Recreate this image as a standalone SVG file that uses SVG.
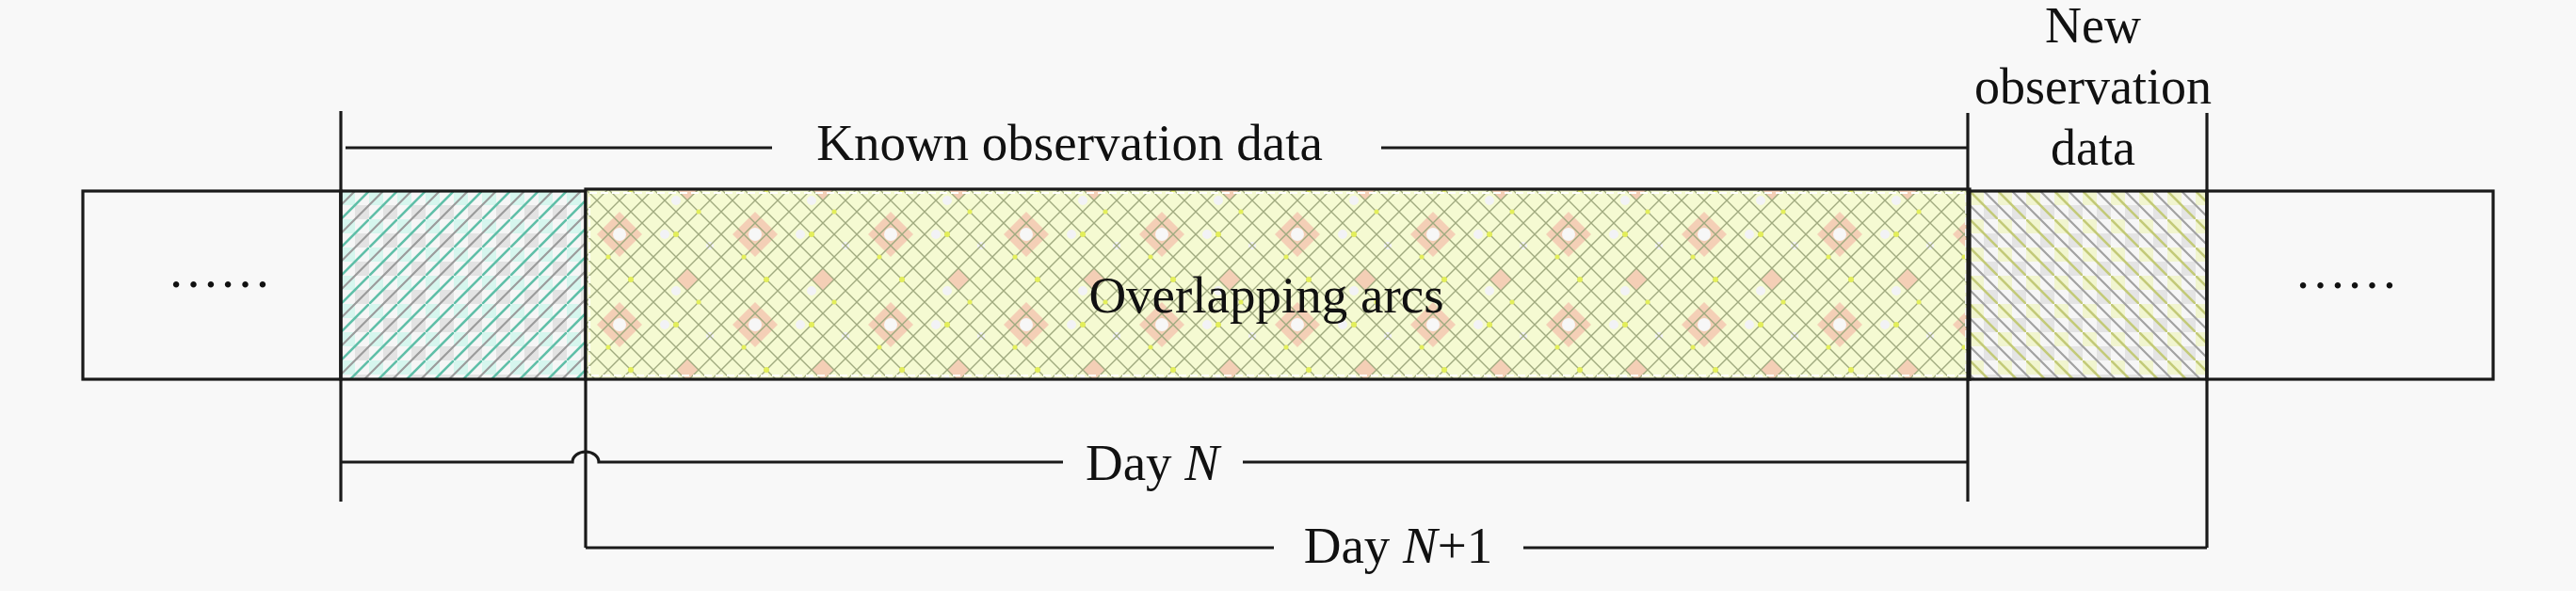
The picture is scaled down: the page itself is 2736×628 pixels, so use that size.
<svg xmlns="http://www.w3.org/2000/svg" width="2736" height="628" viewBox="0 0 2736 628">
<style>
.ln{stroke:#1a1a1a;stroke-width:3.2;fill:none}
.bx{stroke:#1a1a1a;stroke-width:3.2}
.t{font-family:"Liberation Serif","Times New Roman",serif;font-size:55px;fill:#111}
.c{text-anchor:middle}
.it{font-style:italic}
.tn{font-family:"Liberation Serif","Times New Roman",serif;font-size:54px;fill:#111;text-anchor:middle}
</style>
<defs>
<pattern id="pA" patternUnits="userSpaceOnUse" x="362" y="203" width="30" height="30">
<rect width="30" height="30" fill="#f6f6f6"/>
<rect x="0" y="0" width="15" height="15" fill="#d6f6ee"/>
<rect x="15" y="15" width="15" height="15" fill="#e3e3e3"/>
<path d="M-2,32 L32,-2" stroke="#5fbfa8" stroke-width="2.6"/>
<path d="M-2,17 L17,-2 M13,32 L32,13" stroke="#9c9c9c" stroke-width="2.2"/>
</pattern>
<pattern id="pC" patternUnits="userSpaceOnUse" x="2092" y="203" width="30" height="30">
<rect width="30" height="30" fill="#f6f6f6"/>
<rect x="0" y="0" width="15" height="15" fill="#f1f5cf"/>
<rect x="15" y="15" width="15" height="15" fill="#e4e4e4"/>
<path d="M-2,-2 L32,32" stroke="#c3ca78" stroke-width="2.6"/>
<path d="M13,-2 L32,17 M-2,13 L17,32" stroke="#a2a2a2" stroke-width="2.2"/>
</pattern>
<pattern id="pB" patternUnits="userSpaceOnUse" x="622" y="201" width="144" height="96">
<rect width="144" height="96" fill="#f5fad2"/>
<path d="M36,24 L60,48 L36,72 L12,48 Z" fill="#f4cfb6"/>
<circle cx="36" cy="48" r="7" fill="#f7f7f7"/>
<path d="M108,84 L120,96 L96,96 Z M108,0 L120,0 L108,12 L96,0 Z" fill="#f4cfb6"/>
<circle cx="96" cy="12" r="5" fill="#f2f2f6"/>
<circle cx="84" cy="48" r="5" fill="#f2f2f6"/>
<circle cx="132" cy="60" r="4" fill="#f2f2f6"/>
<path d="M0,0 L96,96 M24,0 L120,96 M48,0 L144,96 M72,0 L144,72 M96,0 L144,48 M120,0 L144,24 M0,24 L72,96 M0,48 L48,96 M0,72 L24,96 M144,0 L48,96 M120,0 L24,96 M96,0 L0,96 M72,0 L0,72 M48,0 L0,48 M24,0 L0,24 M144,24 L72,96 M144,48 L96,96 M144,72 L120,96" stroke="#a0aa7f" stroke-width="1.4"/>
<circle cx="48" cy="0" r="3" fill="#e3ee5a"/>
<circle cx="48" cy="96" r="3" fill="#e3ee5a"/>
<circle cx="96" cy="48" r="3" fill="#e3ee5a"/>
<circle cx="120" cy="24" r="2.5" fill="#e3ee5a"/>
<circle cx="24" cy="72" r="2.5" fill="#e3ee5a"/>
</pattern>
</defs>
<rect width="2736" height="628" fill="#f8f8f8"/>
<g id="left-box">
<rect class="bx" x="88" y="203" width="274" height="200" fill="#f8f8f8"/>
<text class="t" x="178" y="305">……</text>
</g>
<g id="known-segment">
<rect class="bx" x="362" y="203" width="260" height="200" fill="url(#pA)"/>
</g>
<g id="overlap">
<rect class="bx" x="622" y="201" width="1470" height="202" fill="url(#pB)"/>
<rect x="626" y="205" width="1462" height="194" fill="none" stroke="#ffffff" stroke-width="2" stroke-dasharray="8 4"/>
<text class="t c" x="1345" y="332">Overlapping arcs</text>
</g>
<g id="new-segment">
<rect class="bx" x="2092" y="203" width="252" height="200" fill="url(#pC)"/>
</g>
<g id="right-box">
<rect class="bx" x="2344" y="203" width="304" height="200" fill="#f8f8f8"/>
<text class="t" x="2437" y="306">……</text>
</g>
<g id="connectors">
<path class="ln" d="M362,118 V533"/>
<path class="ln" d="M2090,120 V533"/>
<path class="ln" d="M2344,120 V582"/>
<path class="ln" d="M622,403 V582"/>
<path class="ln" d="M367,157 H820 M1467,157 H2090"/>
<path class="ln" d="M362,491 H608 A14 11 0 0 1 636 491 H1129 M1320,491 H2090"/>
<path class="ln" d="M622,582 H1353 M1618,582 H2344"/>
</g>
<g id="labels">
<text class="t c" x="1136" y="170">Known observation data</text>
<text class="t c" x="1224" y="510">Day <tspan class="it">N</tspan></text>
<text class="t c" x="1485" y="598">Day <tspan class="it">N</tspan>+1</text>
<text class="tn" x="2223" y="45">New</text>
<text class="tn" x="2223" y="110">observation</text>
<text class="tn" x="2223" y="175">data</text>
</g>
</svg>
